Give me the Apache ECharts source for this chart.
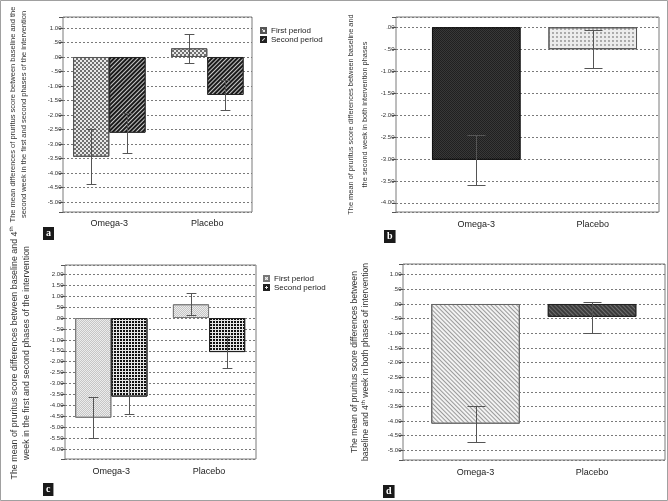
<!DOCTYPE html>
<html><head><meta charset="utf-8">
<script src="https://cdn.jsdelivr.net/npm/echarts@6/dist/echarts.min.js"></script>
<style>html,body{margin:0;padding:0;background:#fff}#c{width:668px;height:501px}</style>
</head><body><div id="c"></div>
<script>
// ---------- data ----------
const categories = ['Omega-3', 'Placebo'];
const seriesNames = ['First period', 'Second period'];
// panel a: change from baseline to week 2, per period
const aFirstMean = [-3.44, 0.30];
const aFirstLow  = [-4.39, -0.21];
const aFirstHigh = [-2.48, 0.80];
const aSecondMean = [-2.61, -1.31];
const aSecondLow  = [-3.30, -1.84];
const aSecondHigh = [-1.94, -0.78];
// panel b: week 2, both phases
const bMean = [-3.02, -0.50];
const bLow  = [-3.60, -0.93];
const bHigh = [-2.45, -0.06];
// panel c: change from baseline to week 4, per period
const cFirstMean = [-4.57, 0.63];
const cFirstLow  = [-5.51, 0.12];
const cFirstHigh = [-3.62, 1.13];
const cSecondMean = [-3.60, -1.56];
const cSecondLow  = [-4.41, -2.29];
const cSecondHigh = [-2.81, -0.83];
// panel d: week 4, both phases
const dMean = [-4.09, -0.44];
const dLow  = [-4.70, -0.99];
const dHigh = [-3.48, 0.08];
// axis extents
const aRange = [-5.345, 1.379];
const bRange = [-4.21, 0.235];
const cRange = [-6.46, 2.43];
const dRange = [-5.33, 1.366];
const panelLetters = ['a', 'b', 'c', 'd'];
const aTitle = 'The mean differences of pruritus score between baseline and the\nsecond week in the first and second phases of the intervention';
const bTitle = 'The mean of pruritus score differences between baseline and\nthe second week in both intervention phases';
const cTitle = '{n|The mean of pruritus score differences between baseline and 4}{s|th}\n{n|week in the first and second phases of the intervention}';
const dTitle = '{n|The mean of pruritus score differences between}\n{n|baseline and 4}{s|th}{n| week in both phases of intervention}';

// ---------- styles ----------
const FONT = 'Liberation Sans';
function tickFmt(v) {
  if (Math.abs(v * 2 - Math.round(v * 2)) > 1e-6) return '';
  let s = Math.abs(v).toFixed(2);
  if (s[0] === '0') s = s.slice(1);
  return (v < -1e-9 ? '-' : '') + s;
}
const styA1 = {color:'#e8e8e8', borderColor:'#555', borderWidth:1,
  decal:{symbol:'rect', symbolSize:1, color:'#707070', dashArrayX:[[2,2],[0,2,2,0]], dashArrayY:[2,0], rotation:0}};
const styA2 = {color:'#1a1a1a', borderColor:'#222', borderWidth:1,
  decal:{symbol:'rect', symbolSize:1, color:'#c8c8c8', dashArrayX:[1,0], dashArrayY:[1,2], rotation:-Math.PI/4}};
const styB = [
  {color:'#202020', borderColor:'#111', borderWidth:1,
    decal:{symbol:'rect', symbolSize:1, color:'#383838', dashArrayX:[[1,1],[0,1,1,0]], dashArrayY:[1,0], rotation:0}},
  {color:'#ececec', borderColor:'#555', borderWidth:1,
    decal:{symbol:'circle', symbolSize:0.9, color:'#8c8c8c', dashArrayX:[2,1.5], dashArrayY:[2,1.5], rotation:0}}
];
const styC1 = {color:'#ececec', borderColor:'#777', borderWidth:1,
  decal:{symbol:'rect', symbolSize:1, color:'#c6c6c6', dashArrayX:[[1,1],[0,1,1,0]], dashArrayY:[1,0], rotation:0}};
const styC2 = {color:'#e6e6e6', borderColor:'#222', borderWidth:1,
  decal:{symbol:'rect', symbolSize:1, color:'#111', dashArrayX:[2,1], dashArrayY:[2,1], rotation:0}};
const styD = [
  {color:'#f2f2f2', borderColor:'#666', borderWidth:1,
    decal:{symbol:'rect', symbolSize:1, color:'#9a9a9a', dashArrayX:[1,0], dashArrayY:[1,1.5], rotation:Math.PI/4}},
  {color:'#3c3c3c', borderColor:'#222', borderWidth:1,
    decal:{symbol:'rect', symbolSize:1, color:'#6e6e6e', dashArrayX:[1,0], dashArrayY:[1,1.5], rotation:Math.PI/4}}
];

// ---------- layout ----------
const panels = [
  {frame:{left:63, top:17, width:189, height:195}, data:{left:60.3, width:196}, range:aRange, split:13,
   title:aTitle, nameGap:34, nameStyle:{fontSize:7.5, lineHeight:10.6}, labelMargin:7},
  {frame:{left:396, top:17, width:263, height:195}, data:{left:418, width:233}, range:bRange, split:9,
   title:bTitle, nameGap:24, nameStyle:{fontSize:7.4, lineHeight:14}, labelMargin:8.5},
  {frame:{left:65, top:265, width:191, height:194}, data:{left:62.5, width:195.4}, range:cRange, split:17,
   title:cTitle, nameGap:33, nameStyle:{padding:[0, 0, 0, 18], rich:{n:{fontSize:8.9, lineHeight:11.7, fontFamily:FONT, color:'#333'}, s:{fontSize:6, lineHeight:6, verticalAlign:'top', fontFamily:FONT, color:'#333'}}}, labelMargin:8.5},
  {frame:{left:403, top:264, width:262, height:196}, data:{left:417.3, width:233}, range:dRange, split:13,
   title:dTitle, nameGap:32, nameStyle:{rich:{n:{fontSize:8.6, lineHeight:11, fontFamily:FONT, color:'#333'}, s:{fontSize:6, lineHeight:6, verticalAlign:'top', fontFamily:FONT, color:'#333'}}}, labelMargin:8.5}
];

const grids = [], xAxes = [], yAxes = [];
panels.forEach((p, k) => {
  const fi = k * 2, di = k * 2 + 1;
  grids.push(Object.assign({show:true, borderColor:'#7a7a7a', borderWidth:1, backgroundColor:'transparent'}, p.frame));
  grids.push({left:p.data.left, width:p.data.width, top:p.frame.top, height:p.frame.height, show:false});
  xAxes.push({type:'value', gridIndex:fi, min:0, max:1, show:false});
  xAxes.push({type:'category', gridIndex:di, data:categories,
    axisLine:{show:false}, axisTick:{show:true, alignWithLabel:true, length:4, lineStyle:{color:'#555'}},
    axisLabel:{fontSize:9, color:'#222', margin:p.labelMargin, fontFamily:FONT}});
  yAxes.push({type:'value', gridIndex:fi, min:p.range[0], max:p.range[1], splitNumber:p.split,
    axisLine:{show:false}, axisTick:{show:true, length:4, lineStyle:{color:'#555'}},
    axisLabel:{fontSize:6, color:'#333', margin:1.5, formatter:tickFmt, fontFamily:FONT},
    splitLine:{show:true, lineStyle:{type:[2,2], color:'#7a7a7a', width:1}},
    name:p.title, nameLocation:'middle', nameRotate:90, nameGap:p.nameGap,
    nameTextStyle:Object.assign({fontFamily:FONT, color:'#333', align:'center'}, p.nameStyle)});
  yAxes.push({type:'value', gridIndex:di, min:p.range[0], max:p.range[1], show:false});
});

function errRender(offsetFrac, capFrac) {
  return function (params, api) {
    const i = api.value(0);
    const band = api.size([1, 0])[0];
    const x = Math.round(api.coord([i, 0])[0] + offsetFrac * band) + 0.5;
    const yLo = Math.round(api.coord([i, api.value(1)])[1]) + 0.5;
    const yHi = Math.round(api.coord([i, api.value(2)])[1]) + 0.5;
    const h = capFrac * band / 2;
    const st = {stroke:'#555', lineWidth:1};
    return {type:'group', children:[
      {type:'line', shape:{x1:x, y1:yHi, x2:x, y2:yLo}, style:st},
      {type:'line', shape:{x1:x - h, y1:yHi, x2:x + h, y2:yHi}, style:st},
      {type:'line', shape:{x1:x - h, y1:yLo, x2:x + h, y2:yLo}, style:st}
    ]};
  };
}
function errSeries(axisIdx, low, high, offsetFrac, capFrac) {
  return {type:'custom', xAxisIndex:axisIdx, yAxisIndex:axisIdx, z:5, clip:false, silent:true,
    renderItem:errRender(offsetFrac, capFrac),
    data:categories.map((c, i) => [i, low[i], high[i]])};
}
function barSeries(name, axisIdx, values, style, width, styles) {
  return {type:'bar', name:name, xAxisIndex:axisIdx, yAxisIndex:axisIdx, barWidth:width, barGap:'0%',
    itemStyle:style || {},
    data: styles ? values.map((v, i) => ({value:v, itemStyle:styles[i]})) : values};
}

const series = [
  barSeries(seriesNames[0], 1, aFirstMean, styA1, '37%'),
  barSeries(seriesNames[1], 1, aSecondMean, styA2, '37%'),
  errSeries(1, aFirstLow, aFirstHigh, -0.185, 0.10),
  errSeries(1, aSecondLow, aSecondHigh, 0.185, 0.10),
  barSeries('b', 3, bMean, null, '76%', styB),
  errSeries(3, bLow, bHigh, 0, 0.155),
  barSeries(seriesNames[0] + ' ', 5, cFirstMean, styC1, '37%'),
  barSeries(seriesNames[1] + ' ', 5, cSecondMean, styC2, '37%'),
  errSeries(5, cFirstLow, cFirstHigh, -0.185, 0.10),
  errSeries(5, cSecondLow, cSecondHigh, 0.185, 0.10),
  barSeries('d', 7, dMean, null, '76%', styD),
  errSeries(7, dLow, dHigh, 0, 0.155)
];

const legendBase = {orient:'vertical', itemWidth:5, itemHeight:5, itemGap:0, icon:'rect', padding:0,
  selectedMode:false, textStyle:{fontSize:8, lineHeight:9, color:'#222', fontFamily:FONT}};
const letterPos = [[43, 227], [384, 230], [43, 483], [383, 485]];

const chart = echarts.init(document.getElementById('c'), null, {renderer:'canvas'});
chart.setOption({
  animation:false,
  backgroundColor:'#fff',
  textStyle:{fontFamily:FONT},
  grid:grids, xAxis:xAxes, yAxis:yAxes, series:series,
  legend:[
    Object.assign({}, legendBase, {data:seriesNames, left:260, top:26}),
    Object.assign({}, legendBase, {data:seriesNames.map(n => n + ' '), left:263, top:274})
  ],
  title: panelLetters.map((t, k) => ({text:t, left:letterPos[k][0], top:letterPos[k][1],
    backgroundColor:'#1a1a1a', padding:[0, 3, 1, 3],
    textStyle:{color:'#fff', fontSize:10, fontWeight:'bold', fontFamily:'Liberation Serif', lineHeight:12}})),
  graphic:[{type:'rect', shape:{x:0.5, y:0.5, width:667, height:500}, style:{fill:'none', stroke:'#a0a0a0', lineWidth:1}, silent:true}]
});
</script></body></html>
